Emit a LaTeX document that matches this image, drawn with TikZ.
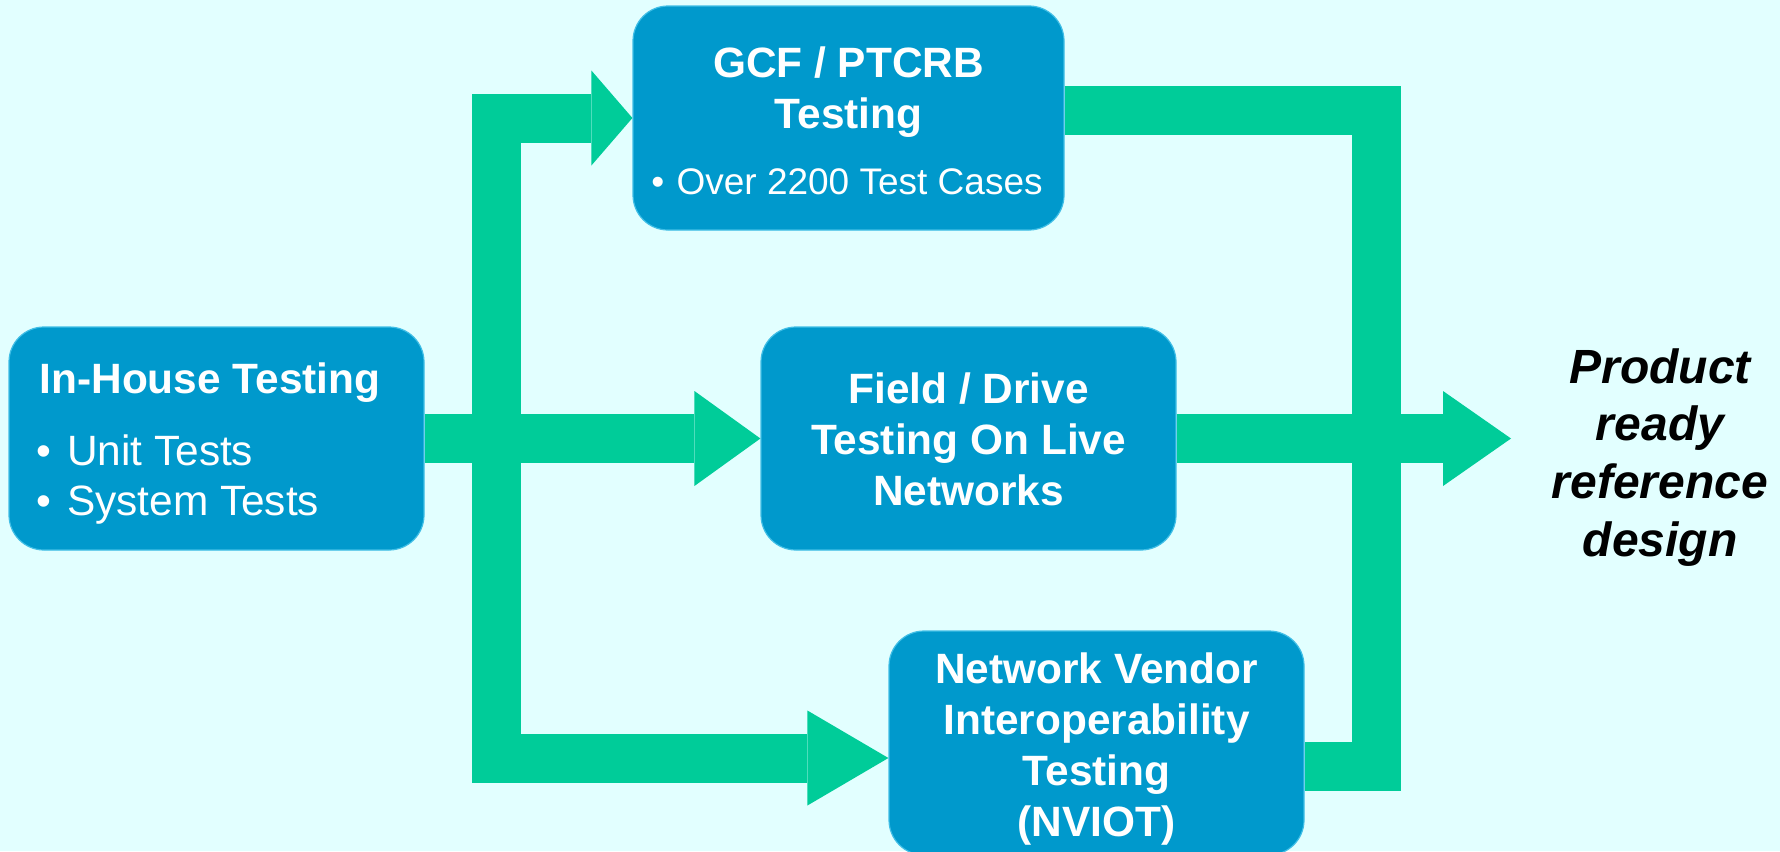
\documentclass[tikz,border=0pt]{standalone}
\usepackage{fontspec}
\setmainfont{Liberation Sans}
\usetikzlibrary{arrows.meta}
\definecolor{bg}{HTML}{E2FFFF}
\definecolor{boxblue}{HTML}{0099CC}
\definecolor{flowgreen}{HTML}{00CC99}
\definecolor{boxedge}{HTML}{40BEE6}
\tikzset{
 box/.style={draw=boxedge, line width=0.6pt, fill=boxblue, rounded corners=17.5pt, inner sep=0pt, minimum width=207.5pt, minimum height=111.5pt},
 title/.style={text=white, font=\fontsize{21.2pt}{25.5pt}\selectfont\bfseries, align=center, inner sep=0pt},
 item/.style={text=white, font=\fontsize{21.2pt}{25pt}\selectfont, inner sep=0pt},
 flowline/.style={draw=flowgreen, line width=24.5pt, line join=miter},
 flow/.style={flowline, -{Triangle[length=#1,width=47.5pt,line width=0pt]}},
 flow/.default=33pt,
 result/.style={text=black, font=\fontsize{24pt}{28.85pt}\selectfont\bfseries\itshape, align=center, inner sep=0pt}
}
\begin{document}
\begin{tikzpicture}[x=0.5pt,y=-0.5pt]
\fill[bg] (0,0) rectangle (1780,851);
\useasboundingbox (0,0) rectangle (1780,851);
\clip (0,0) rectangle (1780,851);
% boxes
\node[box, minimum width=215.5pt, minimum height=112pt] (gcf) at (848.5,118) {};
\node[box] (field) at (968.5,438.5) {};
\node[box] (inh) at (216.5,438.5) {};
\node[box, minimum height=112pt] (nv) at (1096.5,743) {};
% texts
\node[title, anchor=north] (gcf-t) at (848.5,46) {GCF / PTCRB\\Testing};
\node[item, anchor=base, font=\fontsize{18.5pt}{22pt}\selectfont] (gcf-i) at (847,194) {•\hspace{1pt} Over 2200 Test Cases};
\node[title, anchor=base] (inh-t) at (210,393) {In-House Testing};
\node[item, anchor=base west] (inh-i1) at (36,465) {•\hspace{2pt} Unit Tests};
\node[item, anchor=base west] (inh-i2) at (36,515) {•\hspace{2pt} System Tests};
\node[title, anchor=north] (field-t) at (968.5,372) {Field / Drive\\Testing On Live\\Networks};
\node[title, anchor=north] (nv-t) at (1096.5,652) {Network Vendor\\Interoperability\\Testing\\(NVIOT)};
\node[result, anchor=north] (res) at (1660,348) {Product\\ready\\reference\\design};
% connectors
\coordinate (fl) at (496.5,118);
\coordinate (fb) at (496.5,758);
\coordinate (rt) at (1376.5,110.5);
\coordinate (rb) at (1376.5,766);
\coordinate (out) at (1511,438.5);
\draw[flow=20.5pt] (fb) -- (fl) -- (gcf.west);
\draw[flow=40.5pt] (fl) -- (fb) -- (nv.west |- fb);
\draw[flow=33pt] (inh.east) -- (field.west);
\draw[flowline] (gcf.east |- rt) -- (rt) -- (rb) -- (nv.east |- rb);
\draw[flow=34pt] (field.east) -- (out);
\end{tikzpicture}
\end{document}
